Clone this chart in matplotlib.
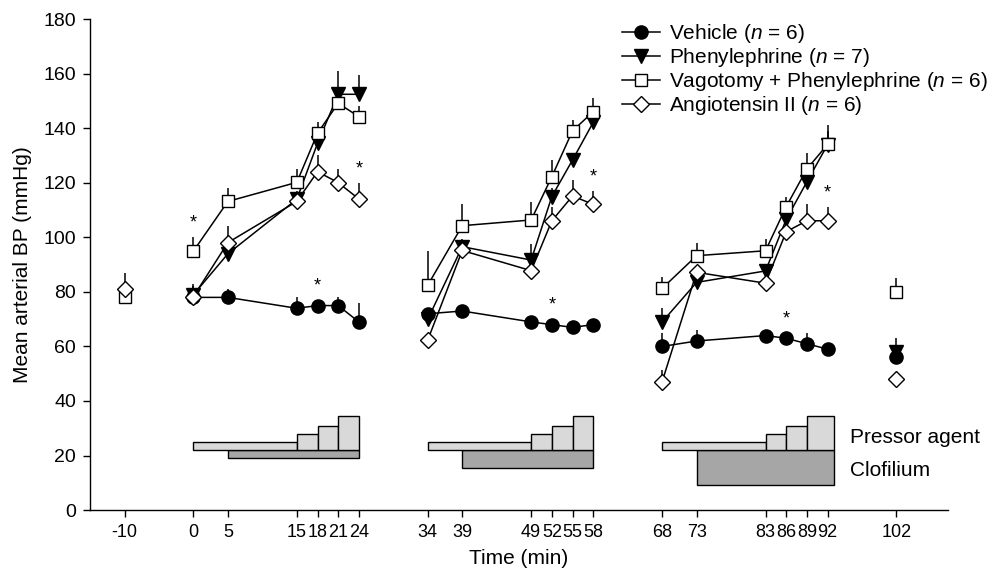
import matplotlib

matplotlib.use("Agg")

import matplotlib.pyplot as plt

plt.rcParams["font.family"] = ["Liberation Sans", "DejaVu Sans"]
plt.rcParams["mathtext.fontset"] = "custom"
plt.rcParams["mathtext.it"] = "Liberation Sans:italic"
plt.rcParams["mathtext.rm"] = "Liberation Sans"

# sampling times of the three infusion blocks
BLOCK_TIMES = [
    [0, 5, 15, 18, 21, 24],
    [34, 39, 49, 52, 55, 58],
    [68, 73, 83, 86, 89, 92],
]
PRE_TIME = -10
POST_TIME = 102
XTICKS = [-10, 0, 5, 15, 18, 21, 24, 34, 39, 49, 52, 55, 58,
          68, 73, 83, 86, 89, 92, 102]

# mean arterial BP (mmHg) per block, plus the isolated pre/post readings
vehicle = [[78, 78, 74, 75, 75, 69],
           [72, 73, 69, 68, 67, 68],
           [60, 62, 64, 63, 61, 59]]
vehicle_sem = [[5, 3, 4, 2, 3, 7],
               [2, 1, 1, 2, 1, 2],
               [5, 4, 2, 2, 4, 1]]
vehicle_pre, vehicle_pre_sem = None, None
vehicle_post, vehicle_post_sem = 56, 2

phenyl = [[79, 94, 114, 134.5, 152.5, 152.5],
          [70, 96.6, 91.7, 115, 128.4, 142.2],
          [69, 83.5, 87.7, 106.6, 120.4, 134]]
phenyl_sem = [[3, 2, 3, 3, 8.5, 7],
              [3, 3, 6, 3, 2, 2],
              [5, 2, 2, 2, 2, 5]]
phenyl_pre, phenyl_pre_sem = None, None
phenyl_post, phenyl_post_sem = 58, 5

vagotomy = [[95, 113.2, 120.2, 138.2, 149.2, 144.3],
            [82.5, 104.3, 106.4, 122.3, 139.1, 146.1],
            [81.3, 93.3, 95.1, 111.3, 125.1, 134.1]]
vagotomy_sem = [[5, 5, 5, 4, 4, 4],
                [12.5, 8, 6.7, 6, 4, 5],
                [4, 4.8, 4.2, 3.6, 6, 7]]
vagotomy_pre, vagotomy_pre_sem = 78, 2
vagotomy_post, vagotomy_post_sem = 80.1, 5

angio = [[78.3, 98.1, 113.2, 124.1, 120.1, 114.1],
         [62.4, 95.2, 87.8, 106.1, 115.2, 112.1],
         [47.1, 87.2, 83.2, 102.1, 106.1, 106.1]]
angio_sem = [[2, 6, 2, 6, 5, 6],
             [2, 2, 2, 5, 6, 5],
             [4.3, 2, 2, 2, 6, 5]]
angio_pre, angio_pre_sem = 81, 6
angio_post, angio_post_sem = 48, 2

# (block, index) of points marked significant
vehicle_sig = [(0, 3), (1, 3), (2, 3)]
vagotomy_sig = [(0, 0)]
angio_sig = [(0, 5), (1, 5), (2, 5)]

# infusion protocol bars under the curves
PRESSOR_START = [0, 34, 68]
PRESSOR_STEPS = [[15, 18, 21, 24], [49, 52, 55, 58], [83, 86, 89, 93]]
PRESSOR_BASE = 22
PRESSOR_TOPS = [25, 28, 31, 34.6]
CLOFILIUM_START = [5, 39, 73]
CLOFILIUM_BOTTOM = [19, 15.5, 9.2]

SERIES = [
    ("Vehicle ($\\it{n}$ = 6)", vehicle, vehicle_sem, vehicle_pre, vehicle_pre_sem,
     vehicle_post, vehicle_post_sem, vehicle_sig,
     dict(marker="o", markersize=9.5, markerfacecolor="black")),
    ("Phenylephrine ($\\it{n}$ = 7)", phenyl, phenyl_sem, phenyl_pre, phenyl_pre_sem,
     phenyl_post, phenyl_post_sem, [],
     dict(marker="v", markersize=10, markerfacecolor="black")),
    ("Vagotomy + Phenylephrine ($\\it{n}$ = 6)", vagotomy, vagotomy_sem, vagotomy_pre,
     vagotomy_pre_sem, vagotomy_post, vagotomy_post_sem, vagotomy_sig,
     dict(marker="s", markersize=8.5, markerfacecolor="white")),
    ("Angiotensin II ($\\it{n}$ = 6)", angio, angio_sem, angio_pre, angio_pre_sem,
     angio_post, angio_post_sem, angio_sig,
     dict(marker="D", markersize=8, markerfacecolor="white")),
]

fig = plt.figure(figsize=(9.96, 5.75), dpi=100)
ax = fig.add_axes([0.0904, 0.113, 0.8616, 0.8534])

# protocol bars
for b in range(3):
    steps = PRESSOR_STEPS[b]
    c0 = CLOFILIUM_START[b]
    ax.bar(c0, PRESSOR_BASE - CLOFILIUM_BOTTOM[b], width=steps[-1] - c0,
           bottom=CLOFILIUM_BOTTOM[b], align="edge", color="#a6a6a6",
           edgecolor="black", linewidth=1.0, zorder=1)
    p0 = PRESSOR_START[b]
    ax.bar(p0, PRESSOR_TOPS[0] - PRESSOR_BASE, width=steps[0] - p0,
           bottom=PRESSOR_BASE, align="edge", color="#d9d9d9",
           edgecolor="black", linewidth=1.0, zorder=1)
    for k in range(3):
        ax.bar(steps[k], PRESSOR_TOPS[k + 1] - PRESSOR_BASE,
               width=steps[k + 1] - steps[k], bottom=PRESSOR_BASE, align="edge",
               color="#d9d9d9", edgecolor="black", linewidth=1.0, zorder=1)

ax.text(95.3, 26.5, "Pressor agent", fontsize=15, va="center", ha="left")
ax.text(95.3, 14.5, "Clofilium", fontsize=15, va="center", ha="left")

handles = []
for z, (label, vals, sems, pre, pre_sem, post, post_sem, sig, style) in enumerate(SERIES):
    common = dict(color="black", markeredgecolor="black", markeredgewidth=1.0,
                  linewidth=1.1, **style)
    zo = 3 + z
    for b in range(3):
        t = BLOCK_TIMES[b]
        ax.errorbar(t, vals[b], yerr=[[0] * len(t), sems[b]], fmt="none",
                    ecolor="black", elinewidth=1.1, capsize=0, zorder=zo)
        (line,) = ax.plot(t, vals[b], zorder=zo, **common)
    for tt, v, s in [(PRE_TIME, pre, pre_sem), (POST_TIME, post, post_sem)]:
        if v is None:
            continue
        ax.errorbar([tt], [v], yerr=[[0], [s]], fmt="none", ecolor="black",
                    elinewidth=1.1, capsize=0, zorder=zo)
        ax.plot([tt], [v], zorder=zo, **common)
    for b, i in sig:
        ax.annotate("*", (BLOCK_TIMES[b][i], vals[b][i] + sems[b][i]),
                    xytext=(0, 4), textcoords="offset points", ha="center",
                    va="bottom", fontsize=13)
    line.set_label(label)
    handles.append(line)

ax.set_xlim(-15, 109.5)
ax.set_ylim(0, 180)
ax.set_xticks(XTICKS)
ax.set_xticklabels([str(t) for t in XTICKS])
ax.set_yticks(range(0, 181, 20))
ax.tick_params(axis="both", direction="out", length=5, width=1.0,
               labelsize=13, pad=5)
ax.tick_params(axis="y", labelsize=14)
for side in ("top", "right"):
    ax.spines[side].set_visible(False)
for side in ("left", "bottom"):
    ax.spines[side].set_linewidth(1.0)

ax.set_xlabel("Time (min)", fontsize=15, labelpad=6)
ax.set_ylabel("Mean arterial BP (mmHg)", fontsize=15, labelpad=8)

fig.legend(handles=handles, loc="upper left", bbox_to_anchor=(0.624, 0.962),
           frameon=False, fontsize=15, handlelength=1.85, handletextpad=0.45,
           labelspacing=0.05, borderaxespad=0, borderpad=0)

fig.savefig("out.png", dpi=100)
